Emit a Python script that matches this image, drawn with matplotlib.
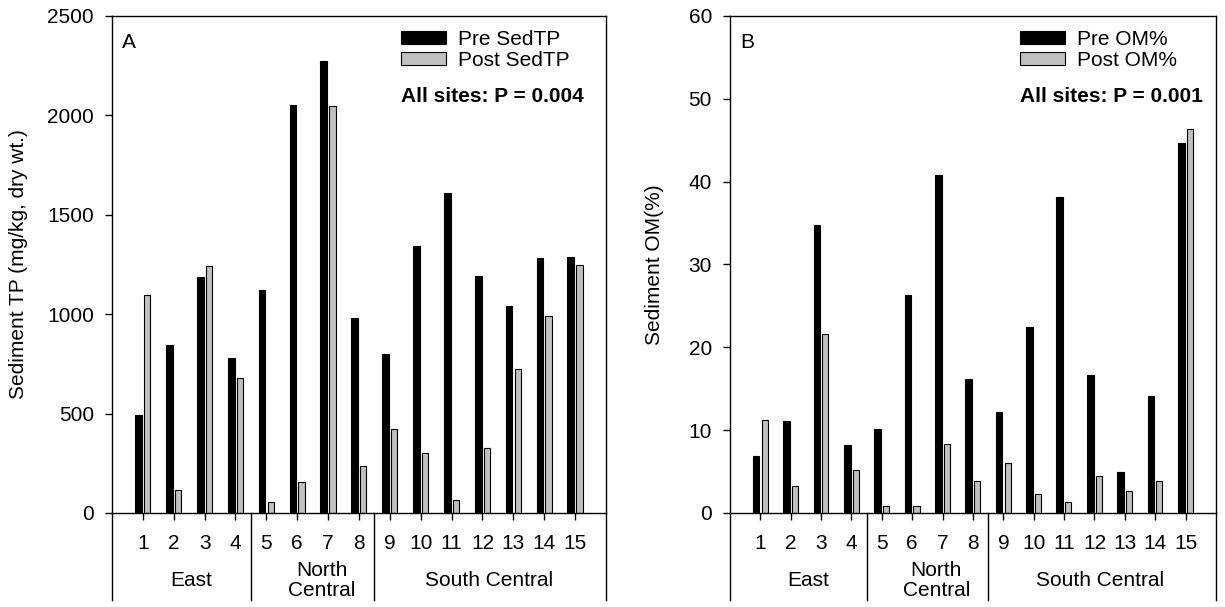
import matplotlib
matplotlib.use("Agg")
import matplotlib.pyplot as plt
import matplotlib.transforms as mtransforms
from matplotlib.patches import Patch
import numpy as np

plt.rcParams['font.family'] = ['Liberation Sans', 'DejaVu Sans']

# Site numbers and regions
sites = list(range(1, 16))
groups = ["East", "North\nCentral", "South Central"]
group_bounds = [0.0, 4.5, 8.5, 16.0]
group_label_x = [2.58, 6.79, 12.2]

# Panel A: sediment total phosphorus (mg/kg, dry wt.)
tp_pre = [491, 847, 1189, 780, 1122, 2051, 2275, 981, 801, 1345, 1611, 1191, 1039, 1281, 1288]
tp_post = [1095, 116, 1241, 679, 57, 154, 2047, 234, 422, 302, 67, 327, 724, 993, 1247]

# Panel B: sediment organic matter (%)
om_pre = [6.9, 11.1, 34.8, 8.2, 10.1, 26.3, 40.8, 16.2, 12.2, 22.5, 38.1, 16.6, 5.0, 14.1, 44.7]
om_post = [11.2, 3.2, 21.6, 5.2, 0.9, 0.9, 8.3, 3.9, 6.0, 2.3, 1.3, 4.5, 2.7, 3.8, 46.3]

FS = 15
GREY = "#c0c0c0"


def draw_panel(ax, pre, post, ymax, ystep, ylabel, letter, leg_labels, ptext, ylab_x, leg_x):
    x = np.array(sites, dtype=float)
    ax.bar(x - 0.14, pre, width=0.22, color="black", edgecolor="black", linewidth=0.8)
    ax.bar(x + 0.14, post, width=0.2, color=GREY, edgecolor="black", linewidth=0.8)

    ax.set_xlim(0, 16)
    ax.set_ylim(0, ymax)
    ax.set_yticks(np.arange(0, ymax + ystep / 2, ystep))
    ax.set_xticks(x)
    ax.set_xticklabels([str(s) for s in sites])
    ax.tick_params(axis="x", direction="out", length=5, width=1, pad=10, labelsize=FS)
    ax.tick_params(axis="y", direction="out", length=5, width=1, pad=8, labelsize=FS)
    for sp in ax.spines.values():
        sp.set_linewidth(1)

    ax.set_ylabel(ylabel, fontsize=FS)
    ax.yaxis.set_label_coords(ylab_x, 0.5)

    # region dividers below the axis
    trans = mtransforms.blended_transform_factory(ax.transData, ax.transAxes)
    for b in group_bounds:
        ax.plot([b, b], [0, -0.175], color="black", lw=1, transform=trans, clip_on=False)
    for name, gx in zip(groups, group_label_x):
        ax.text(gx, -0.136, name, transform=trans, ha="center", va="center",
                fontsize=FS, linespacing=1.1)

    ax.text(0.021, 0.946, letter, transform=ax.transAxes, ha="left", va="center", fontsize=FS)

    handles = [Patch(facecolor="black", edgecolor="black", linewidth=0.8),
               Patch(facecolor=GREY, edgecolor="black", linewidth=0.8)]
    ax.legend(handles, leg_labels, loc="upper left", bbox_to_anchor=(leg_x, 0.972),
              frameon=False, fontsize=FS, handlelength=2.15, handleheight=0.62,
              handletextpad=0.58, labelspacing=0.1, borderpad=0, borderaxespad=0)
    ax.text(leg_x, 0.838, ptext, transform=ax.transAxes, ha="left", va="center",
            fontsize=FS, fontweight="bold")


fig = plt.figure(figsize=(12.25, 6.07), dpi=100)
ax1 = fig.add_axes([0.0914, 0.1549, 0.4033, 0.8188])
ax2 = fig.add_axes([0.5959, 0.1549, 0.3967, 0.8188])

draw_panel(ax1, tp_pre, tp_post, 2500, 500, "Sediment TP (mg/kg, dry wt.)", "A",
           ["Pre SedTP", "Post SedTP"], "All sites: P = 0.004", -0.17, 0.586)
draw_panel(ax2, om_pre, om_post, 60, 10, "Sediment OM(%)", "B",
           ["Pre OM%", "Post OM%"], "All sites: P = 0.001", -0.135, 0.597)

fig.savefig("out.png", dpi=100)
